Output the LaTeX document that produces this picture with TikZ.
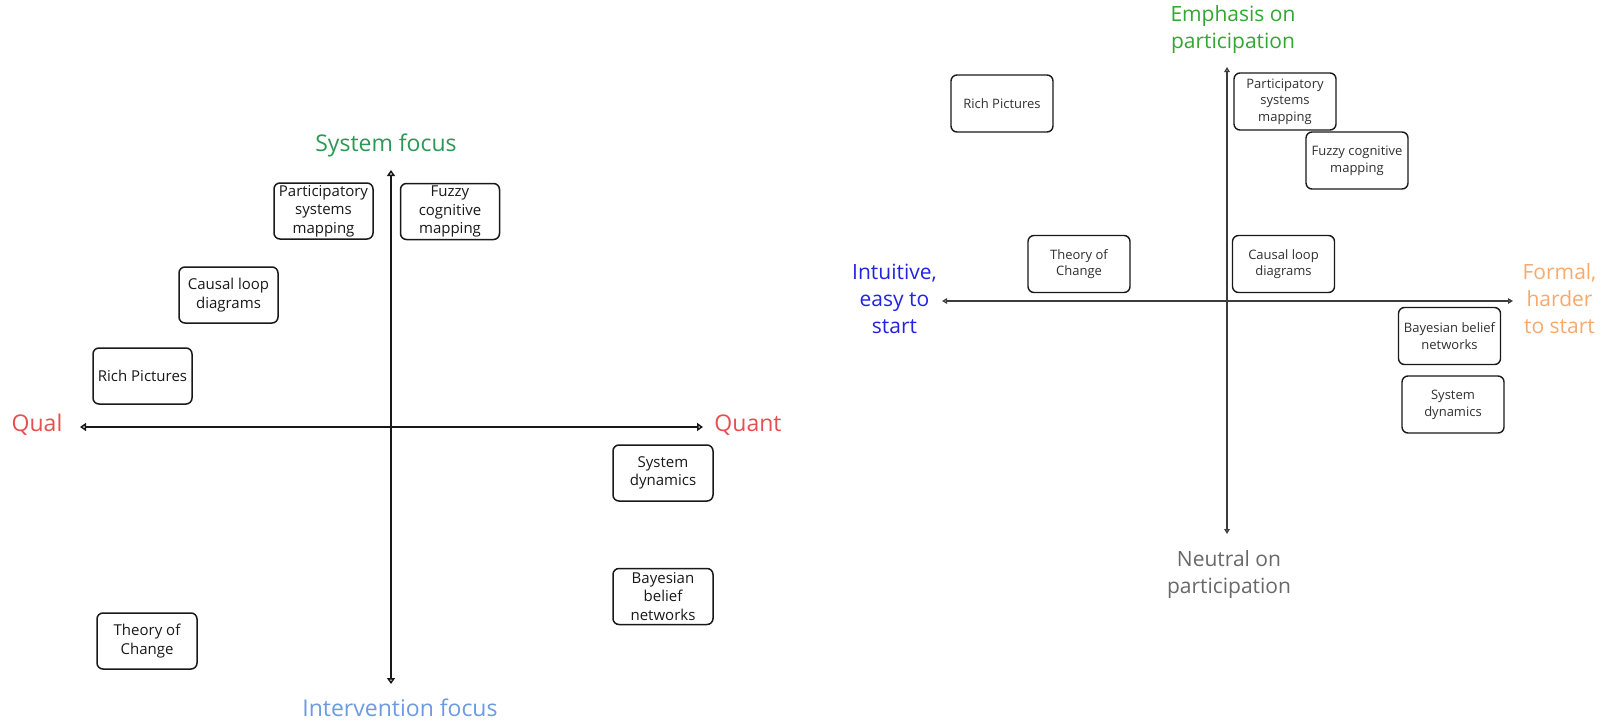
\documentclass[tikz,border=0pt]{standalone}
\usepackage{fontspec}
\setmainfont{Open Sans}
\usetikzlibrary{arrows.meta}

\definecolor{sysgreen}{RGB}{45,152,85}
\definecolor{partgreen}{RGB}{50,168,50}
\definecolor{qualred}{RGB}{232,78,80}
\definecolor{intblue}{RGB}{108,155,225}
\definecolor{easyblue}{RGB}{35,35,228}
\definecolor{formalorange}{RGB}{246,170,110}
\definecolor{neutralgray}{RGB}{105,105,105}
\definecolor{ink}{RGB}{25,25,25}

\tikzset{
  lbox/.style={draw=ink, rounded corners=6pt, line width=1.5pt,
    minimum width=99pt, minimum height=56pt, inner sep=1pt, align=center,
    text=ink, font=\fontsize{15}{18.5}\selectfont},
  rbox/.style={draw=ink, rounded corners=6pt, line width=1.4pt,
    minimum width=102pt, minimum height=57pt, inner sep=1pt, align=center,
    text=ink!90, font=\fontsize{13}{16.7}\selectfont},
  laxis/.style={draw=ink, line width=2.6pt,
    arrows={Triangle[open,length=6pt,width=8pt]-Triangle[open,length=6pt,width=8pt]}},
  raxis/.style={draw=ink!85, line width=1.3pt,
    arrows={Triangle[open,length=5pt,width=5.5pt]-Triangle[open,length=5pt,width=5.5pt]}},
  bigtag/.style={inner sep=0pt, font=\fontsize{23}{28}\selectfont},
  tag/.style={inner sep=0pt, align=center, font=\fontsize{21}{27}\selectfont},
}

\begin{document}
\begin{tikzpicture}[x=1pt,y=-1pt]
\useasboundingbox[fill=white] (0,0) rectangle (1601,723);

% ---------- qualitative vs quantitative / system vs intervention ----------
\coordinate (lN) at (391,170);
\coordinate (lS) at (391,684);
\coordinate (lW) at (80,427);
\coordinate (lE) at (703,427);
\draw[laxis] (lW) -- (lE);
\draw[laxis] (lN) -- (lS);

\node[bigtag, text=sysgreen] (lsys) at (386,145) {System focus};
\node[bigtag, text=intblue] (lint) at (400,708) {Intervention focus};
\node[bigtag, text=qualred] (lqual) at (37,425) {Qual};
\node[bigtag, text=qualred] (lquant) at (748,425) {Quant};

\node[lbox] (lps) at (323.5,211) {Participatory\\systems\\mapping};
\node[lbox] (lfcm) at (450,211.5) {Fuzzy\\cognitive\\mapping};
\node[lbox] (lcld) at (228.5,295) {Causal loop\\diagrams};
\node[lbox] (lrp) at (142.5,376) {Rich Pictures};
\node[lbox, minimum width=100pt] (lsd) at (663,473) {System\\dynamics};
\node[lbox, minimum width=100pt] (lbbn) at (663,596.5) {Bayesian\\belief\\networks};
\node[lbox, minimum width=100pt] (ltoc) at (147,641) {Theory of\\Change};

% ---------- intuitive vs formal / participation ----------
\coordinate (rN) at (1227,67);
\coordinate (rS) at (1227,534);
\coordinate (rW) at (942,301);
\coordinate (rE) at (1513,301);
\draw[raxis] (rW) -- (rE);
\draw[raxis] (rN) -- (rS);

\node[tag, text=partgreen] (remph) at (1233,30) {Emphasis on\\participation};
\node[tag, text=neutralgray] (rneut) at (1229,575) {Neutral on\\participation};
\node[tag, text=easyblue] (rint) at (894.5,299) {Intuitive,\\easy to\\start};
\node[tag, text=formalorange] (rform) at (1559.5,299) {Formal,\\harder\\to start};

\node[rbox] (rrp) at (1002,103.5) {Rich Pictures};
\node[rbox] (rps) at (1285,101.5) {Participatory\\systems\\mapping};
\node[rbox] (rfcm) at (1357,160.5) {Fuzzy cognitive\\mapping};
\node[rbox] (rtoc) at (1079,264) {Theory of\\Change};
\node[rbox] (rcld) at (1283.5,264) {Causal loop\\diagrams};
\node[rbox] (rbbn) at (1449.5,336) {Bayesian belief\\networks};
\node[rbox] (rsd) at (1453,404.5) {System\\dynamics};
\end{tikzpicture}
\end{document}
